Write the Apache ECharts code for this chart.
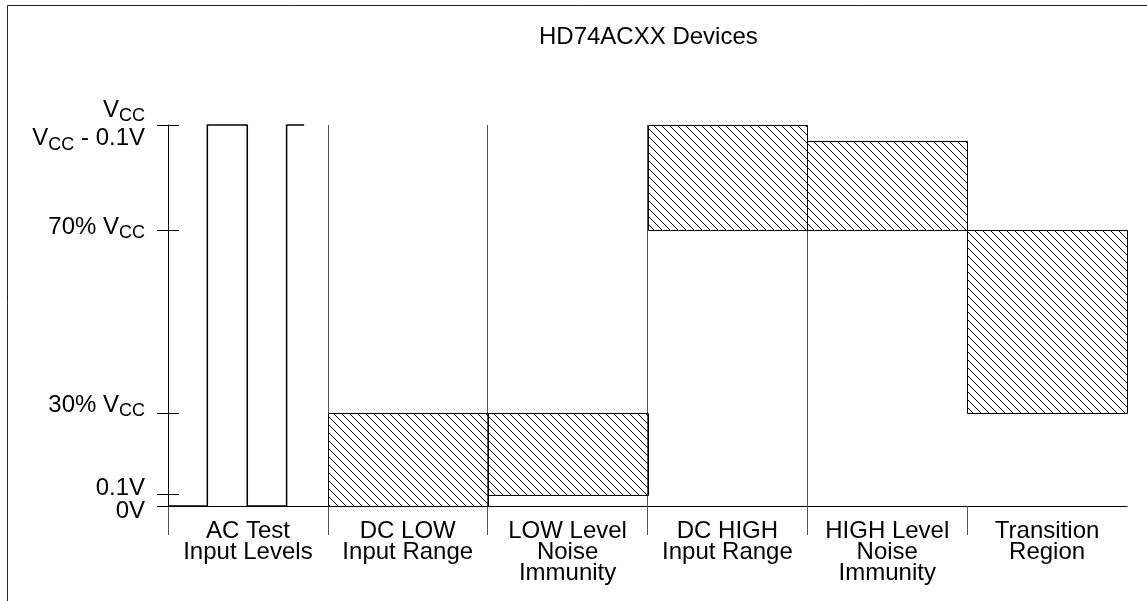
<!DOCTYPE html>
<html>
<head>
<meta charset="utf-8">
<script src="https://cdn.jsdelivr.net/npm/echarts@6/dist/echarts.min.js"></script>
<style>
  html, body { margin: 0; padding: 0; background: #fff; }
  #chart { width: 1147px; height: 601px; }
</style>
</head>
<body>
<div id="chart"></div>
<script>
// ---------------- data ----------------
const titleText = 'HD74ACXX Devices';
const categories = [
  'AC Test\nInput Levels',
  'DC LOW\nInput Range',
  'LOW Level\nNoise\nImmunity',
  'DC HIGH\nInput Range',
  'HIGH Level\nNoise\nImmunity',
  'Transition\nRegion'
];
// voltage levels, placed on the diagram's own (schematic) vertical scale, 0 = 0V, 100 = VCC
const levelNames = ['0V', '0.1V', '30% VCC', '70% VCC', 'VCC - 0.1V', 'VCC'];
const levelPos   = [0, 3.0, 24.3, 72.4, 95.9, 100];
const tickedLevels = ['0V', '0.1V', '30% VCC', '70% VCC', 'VCC'];
// hatched range of each column (by level name); AC column has none
const rangeLow  = [null, '0V',      '0.1V',    '70% VCC', '70% VCC',    '30% VCC'];
const rangeHigh = [null, '30% VCC', '30% VCC', 'VCC',     'VCC - 0.1V', '70% VCC'];
// AC test square wave: edge times (in column units) and level held from each edge
const acTimes  = [0, 0.246, 0.496, 0.742, 0.852];
const acLevels = ['0V', 'VCC', '0V', 'VCC', 'VCC'];

// ---------------- build ----------------
const lv = name => levelPos[levelNames.indexOf(name)];
const boxData = [];
categories.forEach((c, i) => {
  if (rangeLow[i] != null) boxData.push([i, lv(rangeLow[i]), lv(rangeHigh[i])]);
});
const waveData = acTimes.map((t, i) => [t, lv(acLevels[i])]);

// hatch pattern
const S = 8;
const pc = document.createElement('canvas');
pc.width = S; pc.height = S;
const g = pc.getContext('2d');
g.strokeStyle = '#000'; g.lineWidth = 1;
for (let k = -1; k <= 1; k++) {
  g.beginPath(); g.moveTo(-1, -1 + k * S); g.lineTo(S + 1, S + 1 + k * S); g.stroke();
}
const hatch = { image: pc, repeat: 'repeat' };

// y label styling (subscripts + small vertical nudges as in the original drawing)
const labelNudge = { '0V': 5, '0.1V': -6, '30% VCC': -8, '70% VCC': -3, 'VCC - 0.1V': -2, 'VCC': -15 };
// the close-together labels go on a second (line-less) axis so none of them is dropped
const labelsOnSecondAxis = ['0.1V', 'VCC - 0.1V'];
const rich = {};
levelNames.forEach((n, i) => {
  const d = labelNudge[n] || 0;
  const pt = Math.max(0, 2 * d), pb = Math.max(0, -2 * d);
  rich['m' + i] = { fontSize: 24, lineHeight: 24, padding: [pt, 0, pb, 0], color: '#000' };
  rich['s' + i] = { fontSize: 18, lineHeight: 18, padding: [12 + pt, 0, pb, 0], color: '#000' };
});
function yLabel(v) {
  let best = 0;
  levelPos.forEach((p, i) => { if (Math.abs(p - v) < Math.abs(levelPos[best] - v)) best = i; });
  const n = levelNames[best];
  const parts = n.split('VCC');
  if (parts.length === 1) return '{m' + best + '|' + n + '}';
  let out = '';
  parts.forEach((p, j) => {
    if (p) out += '{m' + best + '|' + p + '}';
    if (j < parts.length - 1) out += '{m' + best + '|V}{s' + best + '|CC}';
  });
  return out;
}
const labelsA = levelNames.filter(n => labelsOnSecondAxis.indexOf(n) < 0).map(lv);
const labelsB = levelNames.filter(n => labelsOnSecondAxis.indexOf(n) >= 0).map(lv);

const FONT = "'Liberation Sans', Arial, Helvetica, sans-serif";
const yLabelBase = {
  show: true, margin: 23, formatter: yLabel, rich: rich,
  showMinLabel: true, showMaxLabel: true, hideOverlap: false,
  fontFamily: FONT, color: '#000'
};
const chart = echarts.init(document.getElementById('chart'), null, { renderer: 'canvas' });
chart.setOption({
  animation: false,
  backgroundColor: '#fff',
  textStyle: { fontFamily: FONT, color: '#000' },
  title: {
    text: titleText, left: 539, top: 25, padding: 0,
    textStyle: { fontFamily: FONT, fontSize: 24, fontWeight: 'normal', color: '#000', lineHeight: 24 }
  },
  grid: { left: 168, right: 20, top: 125, bottom: 95, containLabel: false },
  graphic: [{
    type: 'rect', silent: true, z: -1,
    shape: { x: 7.5, y: 5.5, width: 1300, height: 700 },
    style: { fill: null, stroke: '#222', lineWidth: 1 }
  }],
  xAxis: [{
    type: 'value', min: 0, max: categories.length, interval: 1, position: 'bottom',
    axisLine: { show: true, onZero: false, lineStyle: { color: '#000', width: 1 } },
    axisTick: {
      show: true, length: 29, customValues: categories.map((c, i) => i),
      lineStyle: { color: '#555', width: 1 }
    },
    axisLabel: {
      show: true, margin: 15, customValues: categories.map((c, i) => i + 0.5),
      formatter: v => categories[Math.floor(v)],
      showMinLabel: true, showMaxLabel: true, hideOverlap: false,
      fontSize: 24, lineHeight: 21, color: '#000', fontFamily: FONT, align: 'center'
    },
    splitLine: { show: true, showMinLine: false, showMaxLine: false, lineStyle: { color: '#555', width: 1, type: 'solid' } }
  }],
  yAxis: [{
    type: 'value', min: 0, max: 100, position: 'left',
    axisLine: { show: true, lineStyle: { color: '#000', width: 1 } },
    axisTick: { show: true, length: 11, customValues: tickedLevels.map(lv), lineStyle: { color: '#000', width: 1 } },
    axisLabel: Object.assign({ customValues: labelsA }, yLabelBase),
    splitLine: { show: false }
  }, {
    type: 'value', min: 0, max: 100, position: 'left',
    axisLine: { show: false },
    axisTick: { show: true, inside: true, length: 11, customValues: tickedLevels.map(lv), lineStyle: { color: '#000', width: 1 } },
    axisLabel: Object.assign({ customValues: labelsB }, yLabelBase),
    splitLine: { show: false }
  }],
  series: [{
    type: 'custom',
    name: 'ranges',
    xAxisIndex: 0, yAxisIndex: 0,
    data: boxData,
    encode: { x: 0, y: [1, 2] },
    clip: false,
    renderItem: function (params, api) {
      const i = api.value(0), lo = api.value(1), hi = api.value(2);
      const p0 = api.coord([i, hi]);
      const p1 = api.coord([i + 1, lo]);
      const x0 = Math.round(p0[0]) + 0.5, y0 = Math.round(p0[1]) + 0.5;
      const x1 = Math.round(p1[0]) + 0.5, y1 = Math.round(p1[1]) + 0.5;
      return {
        type: 'rect',
        shape: { x: x0, y: y0, width: x1 - x0, height: y1 - y0 },
        style: { fill: hatch, stroke: '#000', lineWidth: 1 }
      };
    }
  }, {
    type: 'line',
    name: 'AC test',
    xAxisIndex: 0, yAxisIndex: 0,
    data: waveData,
    step: 'end',
    symbol: 'none',
    clip: false,
    lineStyle: { color: '#000', width: 1.5 },
    z: 5
  }]
});
</script>
</body>
</html>
